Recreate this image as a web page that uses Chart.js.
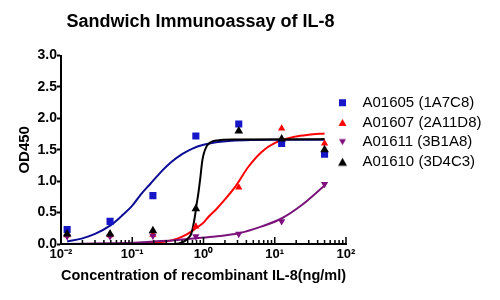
<!DOCTYPE html>
<html>
<head>
<meta charset="utf-8">
<script src="https://cdn.jsdelivr.net/npm/chart.js@4.4.1/dist/chart.umd.min.js"></script>
<style>
html,body{margin:0;padding:0;background:#fff;}
#wrap{width:500px;height:300px;}
</style>
</head>
<body>
<div id="wrap"><canvas id="c" width="500" height="300"></canvas></div>
<script>
// ---- data ----
const chartTitle = 'Sandwich Immunoassay of IL-8';
const xTitle = 'Concentration of recombinant IL-8(ng/ml)';
const yTitle = 'OD450';
const seriesLabels = ['A01605 (1A7C8)', 'A01607 (2A11D8)', 'A01611 (3B1A8)', 'A01610 (3D4C3)'];

const concentrations = [0.0122, 0.0488, 0.195, 0.781, 3.125, 12.5, 50];
const odA01605 = [0.23, 0.36, 0.77, 1.72, 1.91, 1.60, 1.43];
const odA01607 = [0.14, 0.14, 0.15, 0.28, 0.90, 1.84, 1.60];
const odA01611 = [0.12, 0.12, 0.13, 0.12, 0.16, 0.36, 0.955];
const odA01610 = [0.16, 0.16, 0.21, 0.56, 1.80, 1.67, 1.50];

// fitted curves
const fitX1605 = [0.0122, 0.02, 0.03, 0.05, 0.07, 0.1, 0.13, 0.18, 0.25, 0.35, 0.5, 0.7, 1, 1.5, 2.5, 5, 10, 20, 50];
const fitY1605 = [0.04, 0.09, 0.16, 0.30, 0.44, 0.61, 0.78, 0.96, 1.14, 1.30, 1.43, 1.52, 1.58, 1.62, 1.645, 1.657, 1.66, 1.66, 1.66];
const fitX1607 = [0.0122, 0.1, 0.2, 0.3, 0.44, 0.6, 0.78, 1, 1.17, 1.5, 1.8, 2.78, 4.27, 6.6, 10.1, 19.5, 30, 50];
const fitY1607 = [0.0, 0.005, 0.02, 0.04, 0.09, 0.16, 0.25, 0.34, 0.43, 0.55, 0.65, 0.91, 1.23, 1.47, 1.61, 1.71, 1.74, 1.76];
const fitX1611 = [0.0122, 0.05, 0.1, 0.2, 0.4, 0.78, 1.46, 3.09, 6.6, 12.6, 24, 50];
const fitY1611 = [0.0, 0.01, 0.02, 0.04, 0.06, 0.09, 0.12, 0.17, 0.28, 0.41, 0.62, 0.93];
const fitX1610 = [0.0122, 0.3, 0.45, 0.55, 0.62, 0.676, 0.72, 0.76, 0.8, 0.84, 0.906, 0.955, 1, 1.1, 1.26, 1.58, 2.5, 50];
const fitY1610 = [0, 0, 0.01, 0.05, 0.1, 0.17, 0.3, 0.45, 0.63, 0.78, 1.07, 1.3, 1.42, 1.55, 1.62, 1.65, 1.665, 1.67];

const xTickValues = [0.01, 0.1, 1, 10, 100];
const xTickLabels = ['10\u207B\u00B2', '10\u207B\u00B9', '10\u2070', '10\u00B9', '10\u00B2'];
const yMin = 0, yMax = 3, yStep = 0.5;

// ---- styling ----
const FONT = "'Liberation Sans', Arial, Helvetica, sans-serif";
const markerColors = ['#1616c8', '#ff0000', '#7f0f7f', '#000000'];
const curveColors = ['#0c0c96', '#ff0000', '#7a137a', '#000000'];

function pts(xs, ys) { return xs.map((x, i) => ({ x: x, y: ys[i] })); }

function makeMarker(shape, color, w, h) {
  const cv = document.createElement('canvas');
  cv.width = 13; cv.height = 13;
  const g = cv.getContext('2d');
  const c = 6.5;
  g.fillStyle = color;
  g.beginPath();
  if (shape === 'square') {
    g.rect(c - w / 2, c - h / 2, w, h);
  } else if (shape === 'up') {
    g.moveTo(c, c - h / 2); g.lineTo(c + w / 2, c + h / 2); g.lineTo(c - w / 2, c + h / 2);
  } else {
    g.moveTo(c - w / 2, c - h / 2); g.lineTo(c + w / 2, c - h / 2); g.lineTo(c, c + h / 2);
  }
  g.closePath();
  g.fill();
  return cv;
}
const legendMarkers = [
  makeMarker('square', markerColors[0], 7, 7),
  makeMarker('up', markerColors[1], 8, 7),
  makeMarker('down', markerColors[2], 7, 6),
  makeMarker('up', markerColors[3], 9, 8)
];

const pointSets = [odA01605, odA01607, odA01611, odA01610];
const pointStyles = ['rect', 'triangle', 'triangle', 'triangle'];
const pointRot = [0, 0, 180, 0];
const pointRad = [5, 4.2, 4.2, 5];
const pointOrder = [3, 2, 1, 0];

const datasets = [];
pointSets.forEach((ys, i) => {
  datasets.push({
    label: seriesLabels[i],
    data: pts(concentrations, ys),
    showLine: false,
    pointStyle: pointStyles[i],
    rotation: pointRot[i],
    pointRadius: pointRad[i],
    pointHoverRadius: pointRad[i],
    pointBackgroundColor: markerColors[i],
    pointBorderColor: markerColors[i],
    pointBorderWidth: 0,
    order: pointOrder[i]
  });
});
const fits = [[fitX1605, fitY1605], [fitX1607, fitY1607], [fitX1611, fitY1611], [fitX1610, fitY1610]];
const fitOrder = [13, 12, 11, 10];
fits.forEach((f, i) => {
  datasets.push({
    label: seriesLabels[i] + ' fit',
    data: pts(f[0], f[1]),
    showLine: true,
    borderColor: curveColors[i],
    borderWidth: 2,
    pointRadius: 0,
    pointHoverRadius: 0,
    cubicInterpolationMode: 'monotone',
    fill: false,
    order: fitOrder[i]
  });
});

// inward log ticks on the x axis
const xTickPlugin = {
  id: 'xInwardTicks',
  afterDraw(chart) {
    const s = chart.scales.x;
    const ctx = chart.ctx;
    const b = chart.chartArea.bottom;
    ctx.save();
    ctx.strokeStyle = '#000';
    ctx.lineWidth = 1.5;
    ctx.beginPath();
    xTickValues.forEach((d, k) => {
      const px = s.getPixelForValue(d);
      ctx.moveTo(px, b); ctx.lineTo(px, b - 7);
      if (k < xTickValues.length - 1) {
        for (let m = 2; m <= 9; m++) {
          const p = s.getPixelForValue(d * m);
          ctx.moveTo(p, b); ctx.lineTo(p, b - 4);
        }
      }
    });
    ctx.stroke();
    ctx.restore();
  }
};

// place title and legend like the reference
const placePlugin = {
  id: 'place',
  afterLayout(chart) {
    const t = chart.titleBlock;
    if (t) { t.left -= 49.5; t.right -= 49.5; }
    const lg = chart.legend;
    if (lg) {
      const h = lg.bottom - lg.top;
      lg.left = 325.3; lg.right = 500;
      lg.top = 90.5; lg.bottom = lg.top + h;
    }
  }
};

new Chart(document.getElementById('c'), {
  type: 'scatter',
  data: { datasets: datasets },
  plugins: [xTickPlugin, placePlugin],
  options: {
    responsive: false,
    animation: false,
    devicePixelRatio: 1,
    layout: { padding: { left: 0, right: 0, top: 0, bottom: 0 } },
    plugins: {
      tooltip: { enabled: false },
      title: {
        display: true,
        text: chartTitle,
        color: '#000',
        font: { family: FONT, size: 18, weight: 'bold', lineHeight: 1.2 },
        padding: { top: 11, bottom: 23 }
      },
      legend: {
        display: true,
        position: 'right',
        align: 'start',
        maxWidth: 154,
        labels: {
          usePointStyle: true,
          pointStyleWidth: 25,
          padding: 4.7,
          color: '#000',
          font: { family: FONT, size: 15 },
          generateLabels: () => seriesLabels.map((lab, i) => ({
            text: lab,
            fillStyle: markerColors[i],
            strokeStyle: markerColors[i],
            lineWidth: 0,
            pointStyle: legendMarkers[i],
            hidden: false,
            datasetIndex: i
          }))
        }
      }
    },
    scales: {
      x: {
        type: 'logarithmic',
        position: 'bottom',
        min: xTickValues[0],
        max: xTickValues[xTickValues.length - 1],
        afterBuildTicks: (s) => { s.ticks = xTickValues.map(v => ({ value: v, major: true })); },
        afterFit: (s) => { s.height = 56; },
        grid: { display: false, drawTicks: false },
        border: { display: true, color: '#000', width: 2 },
        ticks: {
          autoSkip: false,
          maxRotation: 0,
          padding: 3,
          color: '#000',
          font: { family: FONT, size: 13, weight: 'bold' },
          callback: (v) => xTickLabels[xTickValues.indexOf(v)]
        },
        title: {
          display: true,
          text: xTitle,
          color: '#000',
          font: { family: FONT, size: 15, weight: 'bold', lineHeight: 1.2 },
          padding: { top: 0, bottom: 15 }
        }
      },
      y: {
        min: yMin,
        max: yMax,
        afterFit: (s) => { s.width = 61; },
        grid: { display: true, drawOnChartArea: false, drawTicks: true, tickLength: 4, tickWidth: 2, tickColor: '#000', color: '#000' },
        border: { display: true, color: '#000', width: 2 },
        ticks: {
          stepSize: yStep,
          padding: 0,
          color: '#000',
          font: { family: FONT, size: 14, weight: 'bold' },
          callback: (v) => Number(v).toFixed(1)
        },
        title: {
          display: true,
          text: yTitle,
          color: '#000',
          font: { family: FONT, size: 15, weight: 'bold', lineHeight: 1.2 },
          padding: { top: 16, bottom: 0 }
        }
      }
    }
  }
});
</script>
</body>
</html>
